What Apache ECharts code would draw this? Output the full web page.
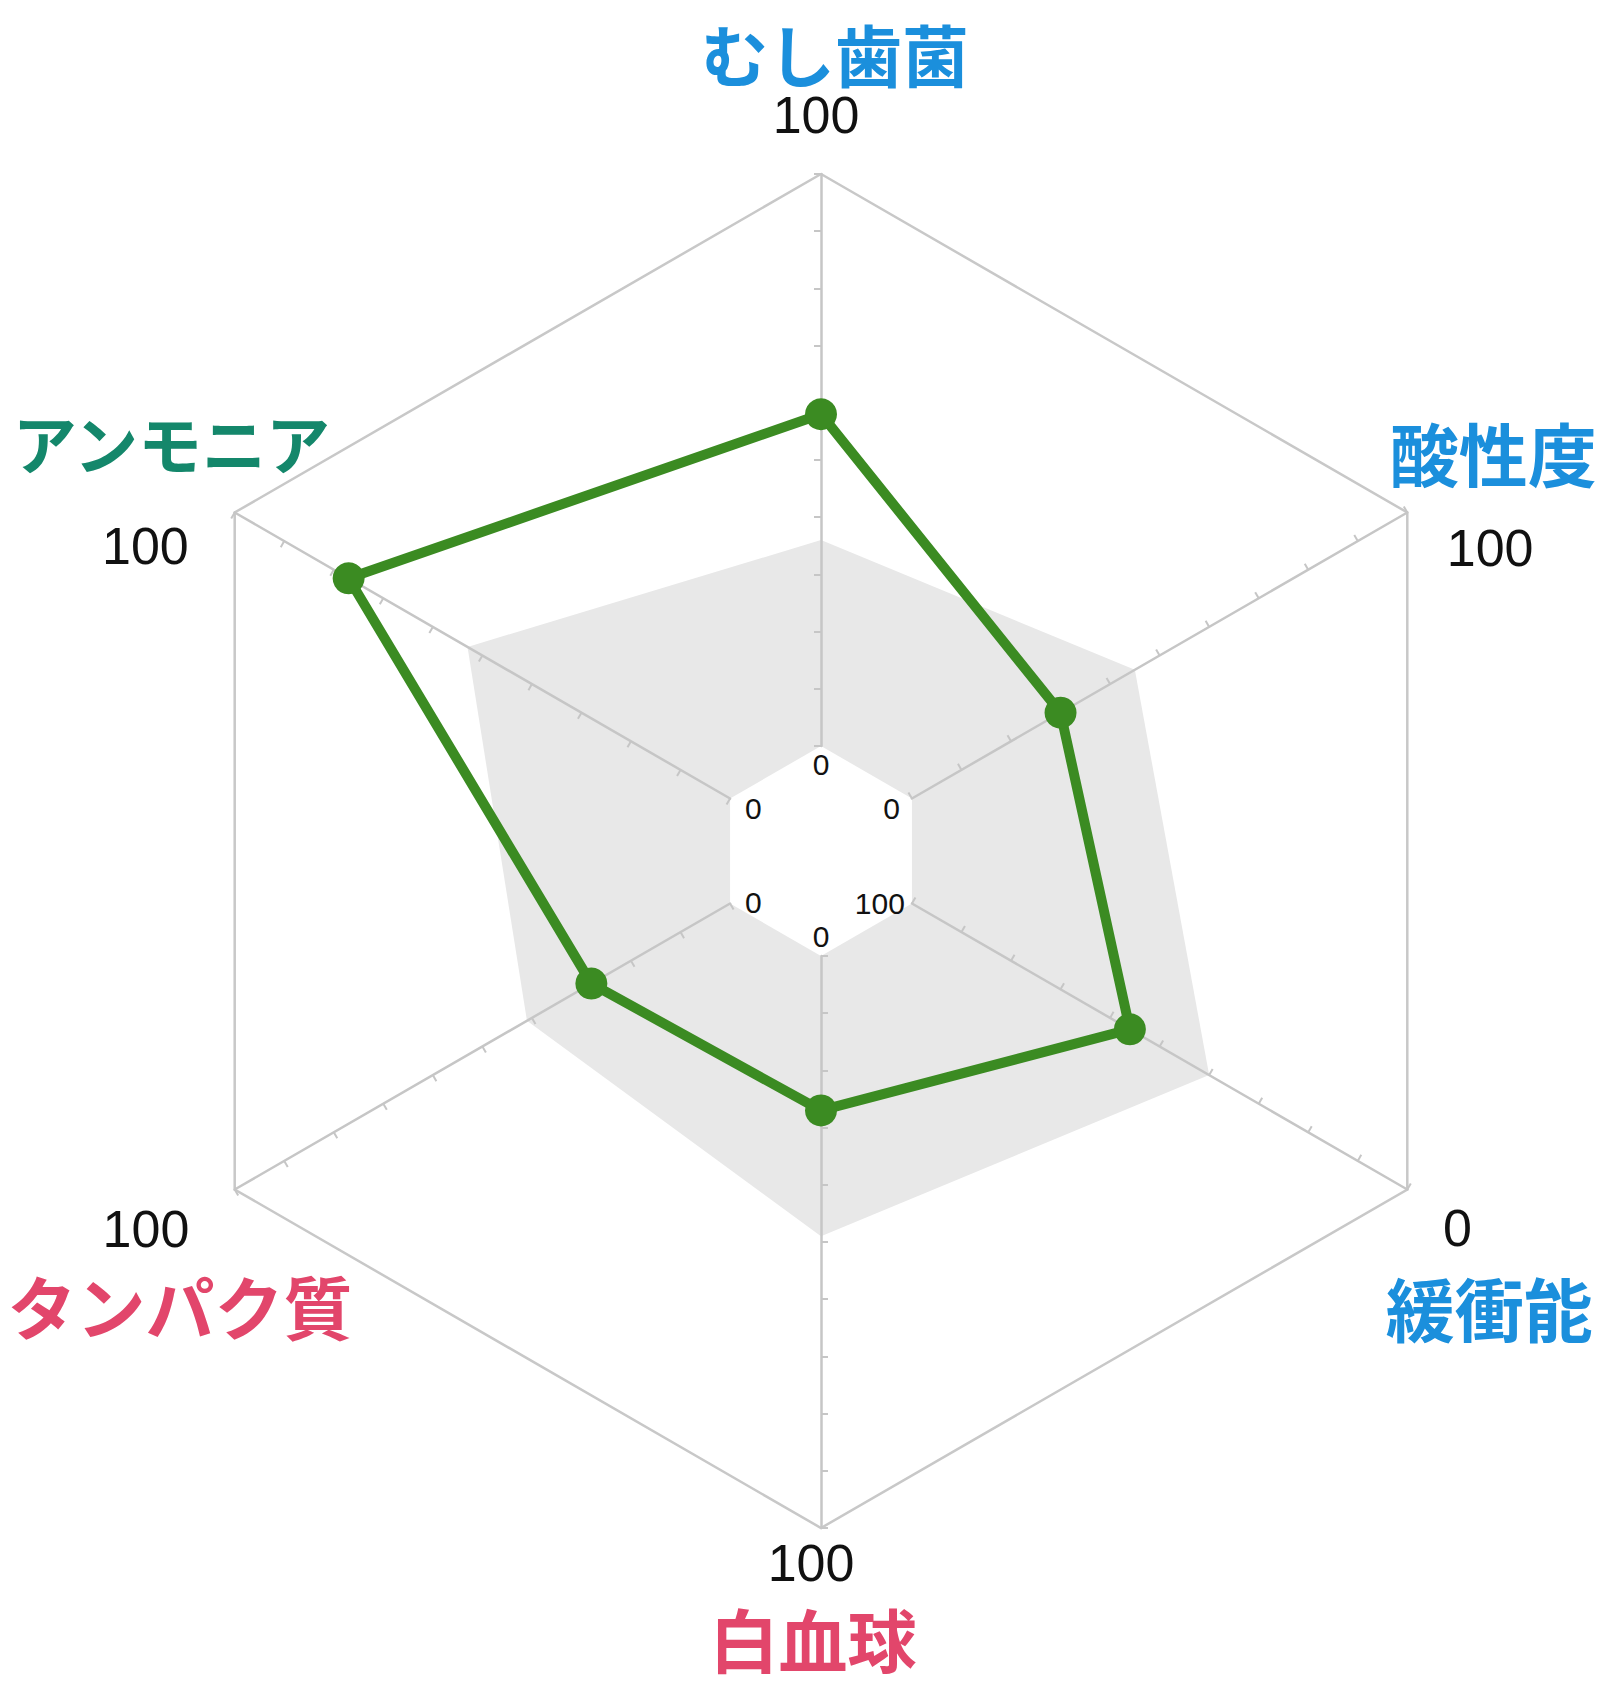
<!DOCTYPE html>
<html>
<head>
<meta charset="utf-8">
<script src="https://cdn.jsdelivr.net/npm/echarts@6/dist/echarts.min.js"></script>
<style>
  html, body { margin: 0; background: #fff; }
  #chart { width: 1600px; height: 1690px; }
</style>
</head>
<body>
<div id="chart"></div>
<script>
// indicators in echarts order (counter-clockwise, starting at the top)
const categories = ['むし歯菌', 'アンモニア', 'タンパク質', '白血球', '緩衝能', '酸性度'];
const nameColors = ['#1b8fdc', '#14876b', '#e2466b', '#e2466b', '#1b8fdc', '#1b8fdc'];
// value printed at the inner / outer end of each axis (緩衝能 is reversed)
const innerLabels = [0, 0, 0, 0, 100, 0];
const outerLabels = [100, 100, 100, 100, 0, 100];
const resultValues = [58, 77, 28, 27, 56, 30];
const standardValues = [36, 53, 41, 49, 40, 45];

// position along the axis, 0 = inner hexagon, 100 = rim
const toAxis = (v, i) => (v - innerLabels[i]) / (outerLabels[i] - innerLabels[i]) * 100;

const NUM_FONT = '"Liberation Sans", Arial, sans-serif';
const JP_FONT = '"Noto Sans CJK JP", sans-serif';

// label layout per indicator
const nameGaps = [101, 5, 151, 71, 149, 1];
const valueFirst = [false, false, true, true, true, false];
const nameSizes = [67, 64, 69, 69, 69, 69];
const nameLH = [84, 72, 72, 72, 72, 72];
const namePad = [[0, 0, 0, 28], [0, 118, 0, 0], [0, 0, 0, 152], [0, 16, 0, 0], [0, 94, 0, 0], [0, 0, 0, 170]];
const valLH = [42, 138, 80, 78, 86, 120];
const valPad = [[0, 10, 0, 0], [0, 170, 0, 0], [0, 0, 0, 84], [0, 20, 0, 0], [0, 158, 0, 0], [0, 0, 0, 164]];
const innerLabelPos = [
  { align: 'center', verticalAlign: 'top', padding: [3, 0, 0, 0] },
  { align: 'left', verticalAlign: 'middle', padding: [19, 0, 0, 15] },
  { align: 'left', verticalAlign: 'middle', padding: [0, 0, 3, 15] },
  { align: 'center', verticalAlign: 'bottom', padding: [0, 0, 5, 0] },
  { align: 'right', verticalAlign: 'middle', padding: [0, 7, 0, 0] },
  { align: 'right', verticalAlign: 'middle', padding: [19, 12, 0, 0] }
];

const rich = {};
categories.forEach((c, i) => {
  rich['n' + i] = {
    fontFamily: JP_FONT, fontWeight: 'bold', fontSize: nameSizes[i],
    lineHeight: nameLH[i], color: nameColors[i], padding: namePad[i]
  };
  rich['v' + i] = {
    fontFamily: NUM_FONT, fontSize: 52, lineHeight: valLH[i],
    color: '#111', padding: valPad[i]
  };
});

const ringColors = [];
for (let k = 0; k < 10; k++) ringColors.push('rgba(0,0,0,0)');
ringColors.push('#c8c8c8');

const indicators = categories.map((name, i) => ({
  name: name,
  min: 0,
  max: 100,
  nameGap: nameGaps[i],
  nameMoveOverlap: false,
  axisLabel: {
    show: true,
    margin: 0,
    hideOverlap: false,
    showMinLabel: true,
    align: innerLabelPos[i].align,
    verticalAlign: innerLabelPos[i].verticalAlign,
    rich: {
      p: {
        fontFamily: NUM_FONT, fontSize: 30, color: '#111',
        padding: innerLabelPos[i].padding
      }
    },
    formatter: (v) => (v === 0 ? '{p|' + innerLabels[i] + '}' : '')
  }
}));

const chart = echarts.init(document.getElementById('chart'), null, { renderer: 'svg' });

const option = {
  backgroundColor: '#fff',
  animation: false,
  radar: {
    z: 0,
    center: [821, 851],
    radius: [105, 677],
    startAngle: 90,
    splitNumber: 10,
    shape: 'polygon',
    nameGap: 0,
    axisName: {
      align: 'center',
      verticalAlign: 'middle',
      rich: rich,
      formatter: (name) => {
        const i = categories.indexOf(name);
        const n = '{n' + i + '|' + name + '}';
        const v = '{v' + i + '|' + outerLabels[i] + '}';
        return valueFirst[i] ? v + '\n' + n : n + '\n' + v;
      }
    },
    axisLine: { lineStyle: { color: '#c6c6c6', width: 2.5 } },
    axisTick: { show: true, length: 7, lineStyle: { color: '#c6c6c6', width: 2 } },
    splitLine: { lineStyle: { color: ringColors, width: 2.5 } },
    splitArea: { show: false },
    indicator: indicators
  },
  series: [
    {
      // reference band, drawn under the axes
      type: 'radar',
      z: -2,
      symbol: 'none',
      silent: true,
      lineStyle: { width: 0 },
      areaStyle: { color: '#e8e8e8', opacity: 1 },
      data: [{ value: standardValues.map(toAxis) }]
    },
    {
      // white centre hexagon
      type: 'radar',
      z: -1,
      symbol: 'none',
      silent: true,
      lineStyle: { width: 0 },
      areaStyle: { color: '#fff', opacity: 1 },
      data: [{ value: innerLabels.map(toAxis) }]
    },
    {
      type: 'radar',
      z: 2,
      symbol: 'circle',
      symbolSize: 32,
      itemStyle: { color: '#3b8b22' },
      lineStyle: { color: '#3b8b22', width: 10 },
      data: [{ value: resultValues.map(toAxis) }]
    }
  ]
};

chart.setOption(option);
</script>
</body>
</html>
